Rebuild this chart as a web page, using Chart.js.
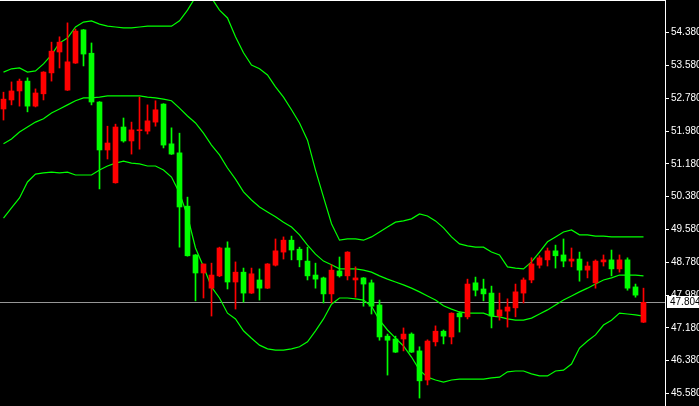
<!DOCTYPE html>
<html>
<head>
<meta charset="utf-8">
<title>Candles with bands</title>
<script src="https://cdn.jsdelivr.net/npm/chart.js@4.4.1/dist/chart.umd.min.js"></script>
<style>
  html, body { margin: 0; padding: 0; background: #000; }
  #chart { display: block; }
</style>
</head>
<body>
<canvas id="chart" width="699" height="406"></canvas>
<script>
// Candle values
const open = [52.52, 52.74, 52.96, 53.20, 52.59, 52.89, 53.40, 53.91, 52.98, 53.64,
  54.45, 53.88, 52.69, 51.52, 50.72, 52.08, 51.74, 51.99, 51.98, 52.20,
  52.64, 51.67, 51.45, 50.15, 48.96, 48.52, 48.15, 48.45, 49.13, 48.30,
  48.54, 48.03, 48.35, 48.15, 48.71, 49.03, 49.32, 49.10, 48.81, 48.47,
  48.40, 48.01, 48.57, 48.45, 48.35, 48.40, 48.28, 47.74, 46.98, 46.91,
  46.91, 47.03, 46.62, 45.91, 46.84, 47.10, 46.96, 47.54, 47.45, 48.28,
  48.13, 48.03, 47.47, 47.59, 47.67, 48.03, 48.35, 48.71, 48.84, 49.06,
  48.96, 48.81, 48.86, 48.59, 48.28, 48.79, 48.84, 48.62, 48.84, 48.18,
  47.32];
const high = [52.93, 53.18, 53.25, 53.28, 53.01, 53.43, 54.15, 54.28, 54.62, 54.47,
  54.46, 54.13, 52.70, 52.10, 52.15, 52.30, 52.20, 52.81, 52.62, 52.72,
  52.65, 52.06, 51.93, 50.37, 48.97, 48.74, 48.76, 49.15, 49.28, 48.79,
  48.64, 48.64, 48.62, 48.75, 49.35, 49.40, 49.42, 49.15, 49.15, 48.76,
  48.42, 48.72, 48.91, 49.04, 48.67, 48.41, 48.35, 47.86, 47.03, 46.98,
  47.18, 47.06, 46.72, 46.89, 47.23, 47.13, 47.55, 47.57, 48.37, 48.42,
  48.37, 48.20, 48.03, 47.89, 48.25, 48.40, 48.89, 48.94, 49.13, 49.20,
  49.35, 49.13, 49.03, 48.79, 48.84, 48.96, 49.08, 48.96, 48.89, 48.25,
  48.15];
const low = [52.25, 52.62, 52.59, 52.45, 52.57, 52.74, 53.20, 53.52, 52.97, 53.63,
  53.57, 52.62, 50.57, 51.30, 50.71, 51.71, 51.42, 51.54, 51.91, 52.10,
  51.57, 51.41, 49.15, 48.93, 47.84, 47.91, 47.47, 48.43, 48.13, 47.64,
  47.81, 48.02, 47.86, 48.14, 48.69, 48.86, 48.84, 48.67, 48.35, 48.15,
  47.79, 47.79, 48.42, 48.35, 47.93, 47.71, 47.52, 46.88, 46.03, 46.58,
  46.62, 46.58, 45.47, 45.79, 46.74, 46.79, 46.79, 47.08, 47.40, 47.96,
  47.84, 47.18, 47.37, 47.20, 47.45, 47.79, 48.28, 48.64, 48.69, 48.64,
  48.67, 48.67, 48.32, 48.40, 48.15, 48.69, 48.45, 48.54, 48.10, 47.93,
  47.31];
const close = [52.76, 52.96, 53.20, 52.59, 52.91, 53.42, 53.93, 54.15, 53.67, 54.42,
  53.86, 52.69, 51.52, 51.69, 52.08, 51.74, 52.01, 52.01, 52.23, 52.50,
  51.64, 51.42, 50.13, 48.94, 48.52, 48.74, 48.47, 49.13, 48.30, 48.54,
  48.03, 48.50, 48.15, 48.74, 49.06, 49.32, 49.08, 48.84, 48.45, 48.37,
  48.01, 48.59, 48.45, 49.03, 48.40, 48.25, 47.71, 46.96, 46.88, 46.59,
  47.03, 46.59, 45.89, 46.86, 47.10, 46.98, 47.54, 47.45, 48.25, 48.10,
  48.01, 47.47, 47.62, 47.69, 48.06, 48.35, 48.74, 48.89, 49.06, 48.94,
  48.81, 48.86, 48.59, 48.69, 48.81, 48.84, 48.62, 48.84, 48.15, 47.98,
  47.804];

// Bollinger bands
const upperBand = [53.42, 53.50, 53.52, 53.42, 53.45, 53.62, 53.84, 54.13, 54.25, 54.52,
  54.64, 54.67, 54.59, 54.54, 54.52, 54.50, 54.50, 54.52, 54.54, 54.54,
  54.54, 54.54, 54.67, 54.93, 55.25, 55.28, 55.23, 54.93, 54.74, 54.28,
  53.89, 53.59, 53.50, 53.35, 53.06, 52.81, 52.50, 52.18, 51.76, 51.03,
  50.37, 49.72, 49.32, 49.35, 49.35, 49.32, 49.40, 49.52, 49.64, 49.76,
  49.79, 49.84, 49.96, 49.91, 49.79, 49.62, 49.40, 49.23, 49.18, 49.15,
  49.15, 49.03, 48.96, 48.67, 48.64, 48.62, 48.79, 49.03, 49.28, 49.40,
  49.52, 49.57, 49.45, 49.45, 49.42, 49.42, 49.40, 49.40, 49.40, 49.40,
  49.40];
const middleBand = [51.67, 51.79, 51.96, 52.08, 52.20, 52.28, 52.42, 52.52, 52.62, 52.72,
  52.79, 52.79, 52.81, 52.84, 52.84, 52.84, 52.84, 52.84, 52.81, 52.79,
  52.76, 52.72, 52.54, 52.35, 52.18, 51.93, 51.64, 51.40, 51.08, 50.81,
  50.50, 50.30, 50.13, 50.01, 49.89, 49.76, 49.64, 49.45, 49.20, 48.98,
  48.81, 48.72, 48.62, 48.62, 48.62, 48.59, 48.54, 48.45, 48.37, 48.30,
  48.23, 48.15, 48.06, 47.96, 47.86, 47.72, 47.64, 47.57, 47.54, 47.54,
  47.54, 47.47, 47.45, 47.40, 47.37, 47.37, 47.42, 47.52, 47.62, 47.74,
  47.86, 47.96, 48.06, 48.15, 48.25, 48.35, 48.40, 48.47, 48.47, 48.47,
  48.45];
const lowerBand = [49.86, 50.11, 50.35, 50.74, 50.93, 50.96, 50.98, 50.96, 50.98, 50.91,
  50.91, 50.91, 51.03, 51.13, 51.20, 51.25, 51.20, 51.18, 51.13, 51.13,
  51.03, 50.86, 50.47, 49.91, 49.13, 48.67, 48.18, 47.91, 47.54, 47.40,
  47.11, 46.93, 46.76, 46.67, 46.64, 46.64, 46.67, 46.72, 46.84, 47.11,
  47.40, 47.76, 47.91, 47.91, 47.89, 47.86, 47.71, 47.37, 47.13, 46.93,
  46.74, 46.47, 46.15, 45.98, 45.91, 45.86, 45.91, 45.93, 45.93, 45.93,
  45.93, 45.96, 45.98, 46.11, 46.13, 46.13, 46.06, 46.01, 46.01, 46.13,
  46.15, 46.30, 46.69, 46.86, 47.01, 47.25, 47.37, 47.54, 47.52, 47.50,
  47.47];

// Price axis ticks
const tickValues = [45.58, 46.38, 47.18, 47.98, 48.78, 49.58, 50.38, 51.18, 51.98, 52.78, 53.58, 54.38];

const lastPrice = close[close.length - 1];

const bullColor = '#ff0000';
const bearColor = '#00ff00';
const bandColor = '#00ff00';

const candleColors = close.map((c, i) => c >= open[i] ? bullColor : bearColor);
const wickData = close.map((c, i) => ({ x: i, y: [low[i], high[i]] }));
const bodyData = close.map((c, i) => ({ x: i, y: [open[i], c] }));
const toPoints = arr => arr.map((v, i) => ({ x: i, y: v }));

function bandDataset(values) {
    return {
        type: 'line',
        data: toPoints(values),
        borderColor: bandColor,
        borderWidth: 1.2,
        pointRadius: 0,
        tension: 0,
        fill: false
    };
}

// Frame, bid line and price label
const framePlugin = {
    id: 'framePlugin',
    beforeDatasetsDraw(chart) {
        const { ctx, chartArea } = chart;
        const y = Math.round(chart.scales.y.getPixelForValue(lastPrice)) + 0.5;
        ctx.save();
        ctx.strokeStyle = '#969696';
        ctx.lineWidth = 1;
        ctx.beginPath();
        ctx.moveTo(chartArea.left, y);
        ctx.lineTo(chartArea.right, y);
        ctx.stroke();
        ctx.restore();
    },
    afterDraw(chart) {
        const { ctx, chartArea, width } = chart;
        ctx.save();
        ctx.strokeStyle = '#ffffff';
        ctx.lineWidth = 1;
        ctx.beginPath();
        ctx.moveTo(chartArea.left, 0.5);
        ctx.lineTo(chartArea.right + 1, 0.5);
        ctx.stroke();

        const y = Math.round(chart.scales.y.getPixelForValue(lastPrice));
        ctx.fillStyle = '#ffffff';
        ctx.fillRect(chartArea.right + 2, y - 6, width - chartArea.right - 2, 12);
        ctx.fillStyle = '#000000';
        ctx.font = '10px "Liberation Sans"';
        ctx.textBaseline = 'middle';
        ctx.textAlign = 'left';
        ctx.fillText(lastPrice.toFixed(3), chartArea.right + 5, y + 0.5);
        ctx.restore();
    }
};

Chart.defaults.font.family = '"Liberation Sans", Arial, sans-serif';
Chart.defaults.font.size = 10;

new Chart(document.getElementById('chart'), {
    type: 'bar',
    data: {
        datasets: [
            {
                data: wickData,
                backgroundColor: candleColors,
                barThickness: 1,
                grouped: false,
                borderWidth: 0
            },
            {
                data: bodyData,
                backgroundColor: candleColors,
                barThickness: 5,
                minBarLength: 1,
                grouped: false,
                borderWidth: 0
            },
            bandDataset(upperBand),
            bandDataset(middleBand),
            bandDataset(lowerBand)
        ]
    },
    options: {
        responsive: false,
        animation: false,
        devicePixelRatio: 1,
        layout: { padding: 0 },
        plugins: {
            legend: { display: false },
            tooltip: { enabled: false }
        },
        scales: {
            x: {
                type: 'linear',
                display: false,
                offset: false,
                bounds: 'ticks',
                min: -0.4375,
                max: 82.6875
            },
            y: {
                position: 'right',
                min: 45.276,
                max: 55.178,
                afterBuildTicks: scale => {
                    scale.ticks = tickValues.map(v => ({ value: v }));
                },
                afterFit: scale => {
                    scale.width = 34;
                    scale.paddingTop = 0;
                    scale.paddingBottom = 0;
                },
                grid: {
                    drawOnChartArea: false,
                    color: '#ffffff',
                    tickLength: 4
                },
                border: { color: '#ffffff', width: 1 },
                ticks: {
                    color: '#ffffff',
                    padding: 2,
                    autoSkip: false,
                    callback: value => value.toFixed(3)
                }
            }
        }
    },
    plugins: [framePlugin]
});
</script>
</body>
</html>
